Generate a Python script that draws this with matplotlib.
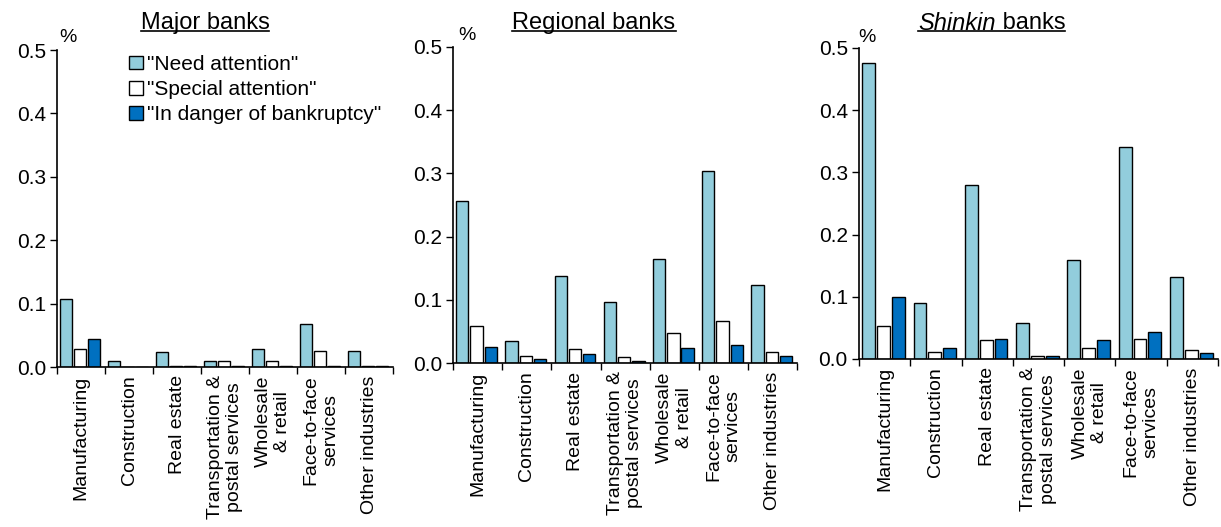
import matplotlib.pyplot as plt
import numpy as np
from matplotlib.lines import Line2D

plt.rcParams['font.family'] = ['Liberation Sans', 'DejaVu Sans']

# data
industries = ['Manufacturing', 'Construction', 'Real estate',
              'Transportation &\npostal services', 'Wholesale\n& retail',
              'Face-to-face\nservices', 'Other industries']
series_names = ['"Need attention"', '"Special attention"', '"In danger of bankruptcy"']

major_need = [0.108, 0.009, 0.024, 0.009, 0.029, 0.068, 0.026]
major_special = [0.029, 0.0, 0.002, 0.009, 0.009, 0.026, 0.002]
major_danger = [0.044, 0.0, 0.002, 0.002, 0.002, 0.002, 0.002]

regional_need = [0.256, 0.035, 0.138, 0.097, 0.165, 0.303, 0.124]
regional_special = [0.059, 0.012, 0.023, 0.009, 0.047, 0.067, 0.017]
regional_danger = [0.026, 0.006, 0.015, 0.003, 0.024, 0.029, 0.012]

shinkin_need = [0.476, 0.090, 0.280, 0.057, 0.159, 0.340, 0.132]
shinkin_special = [0.053, 0.011, 0.030, 0.005, 0.017, 0.032, 0.014]
shinkin_danger = [0.099, 0.017, 0.032, 0.005, 0.030, 0.044, 0.009]

colors = ['#92CDDC', '#FFFFFF', '#0070C0']

fig = plt.figure(figsize=(12.21, 5.27), dpi=100)

rects = [[0.0467, 0.3036, 0.2752, 0.6014],
         [0.371, 0.311, 0.282, 0.600],
         [0.7035, 0.319, 0.294, 0.590]]
panels = [(major_need, major_special, major_danger),
          (regional_need, regional_special, regional_danger),
          (shinkin_need, shinkin_special, shinkin_danger)]

x = np.arange(len(industries))
offsets = [0.19, 0.48, 0.77]
width = 0.25

axes = []
for rect, vals in zip(rects, panels):
    ax = fig.add_axes(rect)
    for i, v in enumerate(vals):
        ax.bar(x + offsets[i], v, width=width, color=colors[i],
               edgecolor='black', linewidth=1.0, label=series_names[i])
    ax.set_xlim(0, len(industries))
    ax.set_ylim(0, 0.5)
    ax.set_yticks(np.arange(0, 0.51, 0.1))
    ax.set_yticklabels(['%.1f' % t for t in np.arange(0, 0.51, 0.1)], fontsize=15)
    ax.set_xticks(np.arange(0, len(industries) + 1))
    ax.set_xticklabels([])
    ax.set_xticks(x + 0.5, minor=True)
    ax.set_xticklabels(industries, minor=True, rotation=90, fontsize=14,
                       ha='center', va='top', multialignment='center')
    ax.tick_params(axis='x', which='minor', length=0, pad=6)
    ax.tick_params(axis='x', which='major', length=5, width=1, direction='out')
    ax.tick_params(axis='y', length=5, width=1, direction='out', pad=3)
    ax.spines['right'].set_visible(False)
    ax.spines['top'].set_visible(False)
    ax.spines['left'].set_linewidth(1.2)
    ax.spines['bottom'].set_linewidth(1.2)
    axes.append(ax)

axes[0].legend(loc='upper left', bbox_to_anchor=(0.215, 0.985), frameon=False,
               fontsize=15, handlelength=0.65, handleheight=0.65,
               handletextpad=0.2, labelspacing=0.3, borderpad=0, borderaxespad=0)

# percent labels
for xp, yp in [(68, 38), (467, 36), (867, 38)]:
    fig.text(xp / 1221, 1 - yp / 527, '%', fontsize=14, ha='center', va='center')

# titles with underline
fig.canvas.draw()
renderer = fig.canvas.get_renderer()
inv = fig.transFigure.inverted()
ty = 1 - 23 / 527


def underline(x0, x1, y0):
    fig.add_artist(Line2D([x0, x1], [y0 + 0.006, y0 + 0.006],
                          color='black', linewidth=1.2, transform=fig.transFigure))


for xc, txt in [(205, 'Major banks'), (594, 'Regional banks')]:
    t = fig.text(xc / 1221, ty, txt, fontsize=17, ha='center', va='center')
    bb = t.get_window_extent(renderer=renderer).transformed(inv)
    underline(bb.x0, bb.x1, bb.y0)

# Shinkin banks: italic word + normal word
t1 = fig.text(918 / 1221, ty, 'Shinkin', fontsize=17, style='italic',
              ha='left', va='center')
bb1 = t1.get_window_extent(renderer=renderer).transformed(inv)
t2 = fig.text(bb1.x1, ty, ' banks', fontsize=17, ha='left', va='center')
bb2 = t2.get_window_extent(renderer=renderer).transformed(inv)
underline(bb1.x0, bb2.x1, min(bb1.y0, bb2.y0))

fig.savefig('out.png', dpi=100)
